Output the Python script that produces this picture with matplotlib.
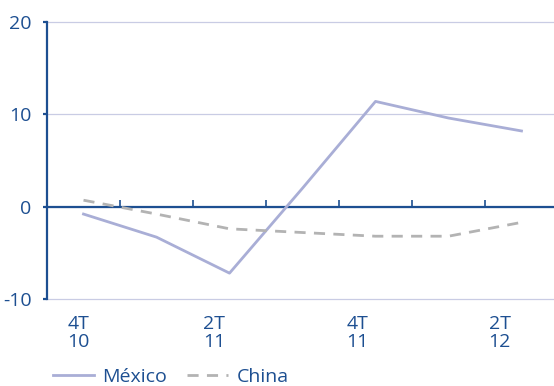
import matplotlib
matplotlib.use("Agg")
import matplotlib.pyplot as plt
import matplotlib.transforms as mtransforms

# quarterly series, 4T10 .. 2T12
quarters = ["4T10", "1T11", "2T11", "3T11", "4T11", "1T12", "2T12"]
mexico = [-0.8, -3.3, -7.2, 2.0, 11.4, 9.6, 8.2]
china = [0.7, -0.8, -2.4, -2.8, -3.2, -3.2, -1.7]

tick_pos = [0, 2, 4, 6]
tick_labels = ["4T\n10", "2T\n11", "4T\n11", "2T\n12"]
yticks = [-10, 0, 10, 20]

navy = "#1d4f91"
lavender = "#a9aed6"
grey = "#b3b3b3"
grid_col = "#c9cce4"

plt.rcParams["font.family"] = ["Open Sans", "DejaVu Sans"]
plt.rcParams["font.size"] = 14
plt.rcParams["axes.unicode_minus"] = False

fig = plt.figure(figsize=(5.54, 3.86), dpi=100)
ax = fig.add_axes([47 / 554, 1 - 299 / 386, 511 / 554, 277 / 386])

x = list(range(len(quarters)))
ax.plot(x, mexico, color=lavender, lw=2, label="México", zorder=3)
ax.plot(x, china, color=grey, lw=2, dashes=(4, 3), label="China", zorder=3)

ax.set_xlim(-0.5, len(quarters) - 0.5)
ax.set_ylim(-10, 20)
ax.set_yticks(yticks)
ax.yaxis.grid(True, color=grid_col, lw=0.9)
for gl in ax.get_ygridlines():
    gl.set_clip_on(False)
ax.set_axisbelow(True)

for s in ["top", "right"]:
    ax.spines[s].set_visible(False)
ax.spines["left"].set_color(navy)
ax.spines["left"].set_linewidth(1.6)
ax.spines["left"].set_zorder(4)
ax.spines["bottom"].set_position(("data", 0))
ax.spines["bottom"].set_color(navy)
ax.spines["bottom"].set_linewidth(1.6)

ax.tick_params(axis="y", colors=navy, length=3, width=1.6, pad=8, labelsize=14)

# small ticks on the zero line between quarters
ax.set_xticks([i + 0.5 for i in range(len(quarters) - 1)], minor=True)
ax.tick_params(axis="x", which="minor", direction="in", length=5, width=1.2, color=navy)
ax.set_xticks(tick_pos)
ax.set_xticklabels(tick_labels, linespacing=1.0)
ax.tick_params(axis="x", which="major", length=0, pad=78, labelcolor=navy, labelsize=14)

# nudge the category labels a little to the left
shifts = [-5, -15, -18, -22]
for lab, dx in zip(ax.get_xticklabels(), shifts):
    lab.set_transform(lab.get_transform() + mtransforms.ScaledTranslation(dx / 100, 0, fig.dpi_scale_trans))

fig.legend(loc="lower left", bbox_to_anchor=(53 / 554, 0.0), ncol=2, frameon=False,
           handlelength=2.1, handletextpad=0.45, columnspacing=1.0, borderpad=0,
           borderaxespad=0, labelcolor=navy, fontsize=14)

fig.savefig("out.png", dpi=100)
